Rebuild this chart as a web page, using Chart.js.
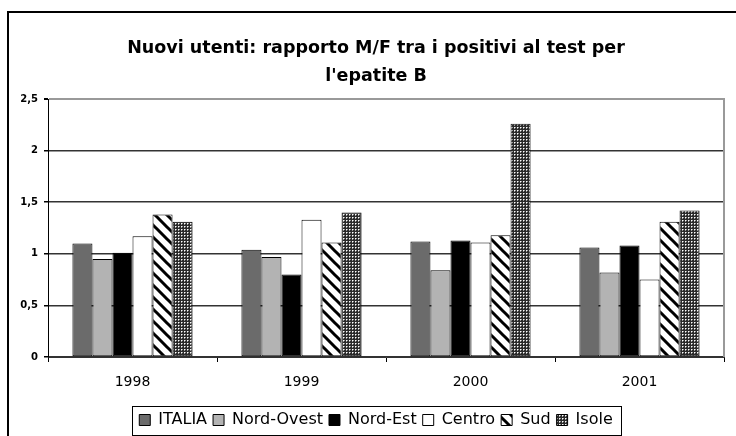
<!DOCTYPE html>
<html>
<head>
<meta charset="utf-8">
<script src="https://cdn.jsdelivr.net/npm/chart.js@4/dist/chart.umd.min.js"></script>
<style>
html,body{margin:0;padding:0;background:#fff;}
#wrap{position:relative;width:736px;height:436px;}
canvas{display:block;}
</style>
</head>
<body>
<div id="wrap"><canvas id="c" width="736" height="436"></canvas></div>
<script>
// ---- data ----
const categories = ['1998', '1999', '2000', '2001'];
const seriesNames = ['ITALIA', 'Nord-Ovest', 'Nord-Est', 'Centro', 'Sud', 'Isole'];
const italia    = [1.10, 1.04, 1.12, 1.06];
const nordOvest = [0.95, 0.97, 0.84, 0.82];
const nordEst   = [1.01, 0.80, 1.13, 1.08];
const centro    = [1.17, 1.33, 1.11, 0.75];
const sud       = [1.38, 1.11, 1.18, 1.31];
const isole     = [1.31, 1.40, 2.26, 1.42];
const yTickLabels = ['0', '0,5', '1', '1,5', '2', '2,5'];
const titleLines = ["Nuovi utenti: rapporto M/F tra i positivi al test per", "l'epatite B"];

const canvas = document.getElementById('c');
const mainCtx = canvas.getContext('2d');

function stripePattern() {
  const s = 12;
  const c = document.createElement('canvas');
  c.width = s; c.height = s;
  const g = c.getContext('2d');
  g.fillStyle = '#fff'; g.fillRect(0, 0, s, s);
  g.strokeStyle = '#000'; g.lineWidth = 3;
  g.beginPath();
  g.moveTo(-2, -2); g.lineTo(s + 2, s + 2);
  g.moveTo(-2, s - 2); g.lineTo(2, s + 2);
  g.moveTo(s - 2, -2); g.lineTo(s + 2, 2);
  g.stroke();
  return mainCtx.createPattern(c, 'repeat');
}
function dotPattern() {
  const c = document.createElement('canvas');
  c.width = 3; c.height = 3;
  const g = c.getContext('2d');
  g.fillStyle = '#2a2a2a'; g.fillRect(0, 0, 3, 3);
  g.fillStyle = '#9a9a9a'; g.fillRect(2, 1, 1, 1); g.fillRect(1, 2, 1, 1);
  g.fillStyle = '#fff'; g.fillRect(1, 1, 1, 1);
  return mainCtx.createPattern(c, 'repeat');
}

const fills = ['#6b6b6b', '#b3b3b3', '#000000', '#ffffff', stripePattern(), dotPattern()];
const seriesData = [italia, nordOvest, nordEst, centro, sud, isole];

const datasets = seriesNames.map((name, i) => ({
  label: name,
  data: seriesData[i],
  backgroundColor: fills[i],
  borderColor: '#000',
  borderWidth: 1,
  borderSkipped: false,
  categoryPercentage: 0.711,
  barPercentage: 1.0,
  yAxisID: 'y'
}));

const decor = {
  id: 'decor',
  beforeDraw(chart) {
    const ctx = chart.ctx;
    ctx.save();
    ctx.fillStyle = '#fff';
    ctx.fillRect(0, 0, chart.width, chart.height);
    ctx.restore();
  },
  afterDraw(chart) {
    const ctx = chart.ctx, a = chart.chartArea;
    ctx.save();
    // plot area right border (gray)
    ctx.strokeStyle = '#999';
    ctx.lineWidth = 2;
    ctx.beginPath();
    ctx.moveTo(Math.round(a.right), a.top - 1);
    ctx.lineTo(Math.round(a.right), a.bottom);
    ctx.stroke();
    // outer chart border
    ctx.strokeStyle = '#000';
    ctx.lineWidth = 2;
    ctx.beginPath();
    ctx.moveTo(8, chart.height + 2);
    ctx.lineTo(8, 12);
    ctx.lineTo(chart.width + 2, 12);
    ctx.stroke();
    // legend frame
    const hb = chart.legend.legendHitBoxes;
    if (hb && hb.length) {
      const first = hb[0], last = hb[hb.length - 1];
      const l = Math.round(first.left - 7) + 0.5;
      const r = Math.round(last.left + last.width + 8) + 0.5;
      const t = Math.round(chart.legend.top) + 0.5;
      const b = 435.5;
      ctx.lineWidth = 1;
      ctx.strokeStyle = '#000';
      ctx.strokeRect(l, t, r - l, b - t);
    }
    ctx.restore();
  }
};

Chart.defaults.font.family = "'DejaVu Sans', sans-serif";
Chart.defaults.color = '#000';

new Chart(mainCtx, {
  type: 'bar',
  data: { labels: categories, datasets },
  plugins: [decor],
  options: {
    responsive: false,
    maintainAspectRatio: false,
    devicePixelRatio: 1,
    animation: false,
    layout: { padding: { top: 12, left: 16, right: 0, bottom: 0 } },
    plugins: {
      tooltip: { enabled: false },
      title: {
        display: true,
        text: titleLines,
        color: '#000',
        font: { family: "'DejaVu Sans', sans-serif", size: 17.5, weight: 'bold', lineHeight: 28 / 17.5 },
        padding: { top: 22, bottom: 9 }
      },
      legend: {
        position: 'bottom',
        maxHeight: 30,
        labels: {
          boxWidth: 11,
          boxHeight: 11,
          padding: 6,
          color: '#000',
          font: { size: 16 }
        }
      }
    },
    scales: {
      x: {
        afterFit(s) { s.height = 49; },
        grid: {
          offset: true,
          drawOnChartArea: false,
          drawTicks: true,
          tickLength: 5,
          color: '#000'
        },
        border: { display: true, color: '#333', width: 1 },
        ticks: { color: '#000', padding: 12, font: { size: 14 } }
      },
      y: {
        position: 'left',
        min: 0,
        max: 2.5,
        afterFit(s) { s.width = 32; },
        ticks: {
          stepSize: 0.5,
          padding: 6,
          color: '#000',
          font: { size: 10, weight: 'bold' },
          callback: (v, i) => yTickLabels[i]
        },
        grid: {
          color: (c) => (c.tick && c.tick.value === 2.5) ? '#999' : '#333',
          lineWidth: (c) => (c.tick && c.tick.value === 2.5) ? 2 : 1.5,
          tickColor: '#000',
          tickLength: 4
        },
        border: { display: true, color: '#000', width: 1 }
      },
      yRight: {
        type: 'linear',
        position: 'right',
        display: true,
        afterFit(s) { s.width = 12; },
        grid: { display: false, drawTicks: false },
        ticks: { display: false },
        border: { display: false }
      }
    }
  }
});
</script>
</body>
</html>
